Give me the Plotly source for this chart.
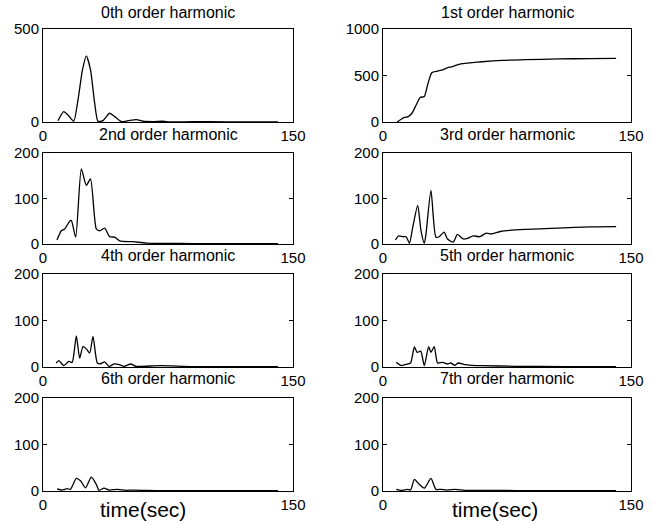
import plotly.graph_objects as go

# ---- data (time in sec, amplitude) ----
t0 = [9, 12.4, 15, 18.4, 21, 23.7, 26, 28.5, 31, 33, 36, 40, 43, 47, 51, 56, 60, 66, 72, 76, 90, 110, 141]
h0 = [7, 56, 38, 4, 119, 281, 356, 281, 101, 4, 7, 47, 29, 2, 7, 13, 4, 2, 4, 0, 2, 1, 1]

t1 = [8.5, 11, 13, 15, 17.5, 20, 22.5, 25, 27, 29.5, 33, 36, 39, 42, 45, 48, 54, 60, 72, 86, 106, 125, 141]
h1 = [0, 30, 50, 55, 94, 180, 264, 275, 400, 530, 547, 560, 585, 595, 615, 627, 638, 648, 662, 670, 678, 682, 685]

t2 = [8.4, 11, 13, 16, 17, 19.6, 23, 26, 28.5, 32, 34, 37, 40, 43, 46, 54, 62, 74, 90, 110, 141]
h2 = [8.8, 29, 33, 50, 52, 15, 165, 129, 143, 33, 29, 35, 16, 15, 7, 5, 2, 1.5, 1, 0.5, 0.5]

t3 = [7.5, 9.5, 12, 14, 16, 18, 21, 23, 25, 26, 29, 32, 34, 37, 39, 42.5, 45, 48.5, 51.5, 54.5, 58.5, 62.5, 65.5, 71.5, 86, 106, 126, 141]
h3 = [8.8, 18, 16, 16, 1.5, 37, 85, 29, 1.5, 22, 118, 15, 16, 26, 11, 4, 21, 11, 13, 18, 16, 24, 22, 28, 32, 35, 37.5, 38]

t4 = [7.9, 9.5, 12.5, 15.5, 17.5, 20, 22, 24, 26, 28, 30, 32.6, 34.6, 37, 39.6, 42.7, 45.7, 48.7, 52.7, 55.8, 70, 90, 141]
h4 = [8.6, 13.6, 3, 12, 10, 67, 19, 44, 39, 30, 66, 8.6, 7, 11, 1.4, 6.5, 5, 1.4, 6.5, 1.4, 3, 1, 0.5]

t5 = [8, 11, 15, 16.7, 19, 20.7, 22.8, 25, 27.6, 29, 31, 33, 36, 39, 41, 43.4, 45.4, 49.5, 53.5, 59.5, 80, 110, 141]
h5 = [10, 3, 6.5, 8.6, 43, 31.5, 34, 3, 44, 31.5, 44, 8.6, 10, 6.5, 8.6, 3.6, 8.6, 5, 3.6, 3, 1.5, 1, 1]

t6 = [8.5, 11.5, 14.5, 16.5, 20, 22.5, 25.5, 29, 32, 33.6, 36.6, 39.7, 44.7, 49.7, 53.7, 70, 100, 141]
h6 = [4.3, 2, 5, 3.6, 27, 22, 7, 30, 14, 1.4, 6, 2, 3.6, 1.4, 2, 1, 0.5, 0.5]

t7 = [8, 11, 15, 16.7, 19, 22, 25, 29, 32, 35, 39, 44, 49.5, 60, 80, 110, 141]
h7 = [3.6, 1.4, 3.6, 2, 25, 14, 6, 27, 3.6, 3.6, 2, 3.6, 1.4, 1.5, 1, 0.5, 0.5]

titles = ["0th order harmonic", "1st order harmonic", "2nd order harmonic", "3rd order harmonic",
          "4th order harmonic", "5th order harmonic", "6th order harmonic", "7th order harmonic"]
y_max = [500, 1000, 200, 200, 200, 200, 200, 200]
y_ticks = [[0, 500], [0, 500, 1000], [0, 100, 200], [0, 100, 200],
           [0, 100, 200], [0, 100, 200], [0, 100, 200], [0, 100, 200]]
x_ticks = [0, 150]
x_label = "time(sec)"

series = [(t0, h0), (t1, h1), (t2, h2), (t3, h3), (t4, h4), (t5, h5), (t6, h6), (t7, h7)]

# ---- layout geometry (pixels) ----
W, H = 655, 524
col_px = [(43, 293), (383, 631)]
row_px = [(29, 122), (153, 244), (274, 367), (398, 491)]
title_px = [12, 134, 255, 378]
xlabel_px = [(143, 509), (495, 509)]

FONT = "Liberation Sans, Arial, Helvetica, sans-serif"
fig = go.Figure()
layout = dict(
    width=W, height=H, margin=dict(l=0, r=0, t=0, b=0, pad=0, autoexpand=False),
    paper_bgcolor="white", plot_bgcolor="white", showlegend=False,
    font=dict(family=FONT, size=15, color="black"),
)
annotations = []
for i, (tx, hy) in enumerate(series):
    r, c = divmod(i, 2)
    n = "" if i == 0 else str(i + 1)
    fig.add_trace(go.Scatter(x=tx, y=hy, mode="lines",
                             line=dict(color="black", width=1.3, shape="spline", smoothing=0.6),
                             xaxis="x" + n, yaxis="y" + n, hoverinfo="skip"))
    x0, x1 = col_px[c]
    y0, y1 = row_px[r]
    common = dict(showline=True, linecolor="black", linewidth=1, mirror="allticks",
                  ticks="inside", ticklen=4, tickcolor="black", showgrid=False,
                  zeroline=False, automargin=False,
                  tickfont=dict(family=FONT, size=15, color="black"))
    layout["xaxis" + n] = dict(domain=[x0 / W, x1 / W], range=[0, 150], tickvals=x_ticks,
                               anchor="y" + n, **common)
    layout["yaxis" + n] = dict(domain=[1 - y1 / H, 1 - y0 / H], range=[0, y_max[i]],
                               tickvals=y_ticks[i], anchor="x" + n, **common)
    annotations.append(dict(text=titles[i], x=(x0 + x1) / 2 / W, y=1 - title_px[r] / H,
                            xref="paper", yref="paper", xanchor="center", yanchor="middle",
                            showarrow=False, font=dict(family=FONT, size=16, color="black")))

for (lx, ly) in xlabel_px:
    annotations.append(dict(text=x_label, x=lx / W, y=1 - ly / H,
                            xref="paper", yref="paper", xanchor="center", yanchor="middle",
                            showarrow=False, font=dict(family=FONT, size=21, color="black")))
layout["annotations"] = annotations
fig.update_layout(**layout)
fig.write_html("out.html",
               config={"displayModeBar": False},
               post_script="document.body.style.margin='0';document.body.style.overflow='hidden';")
